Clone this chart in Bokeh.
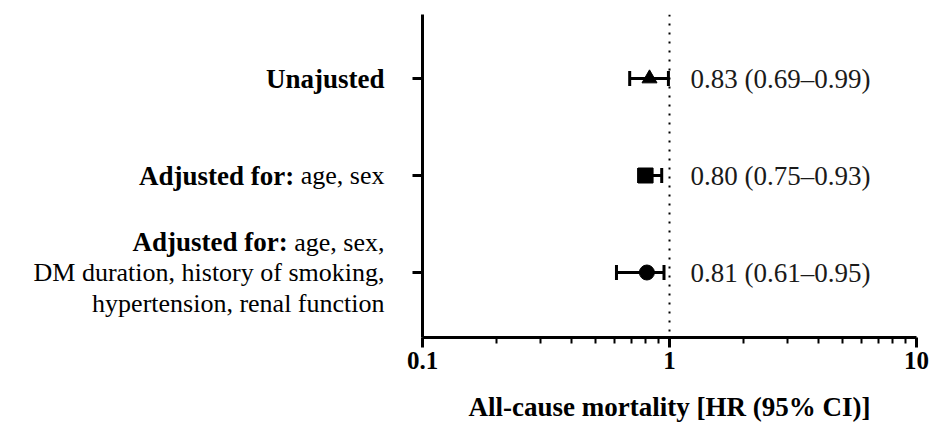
from bokeh.plotting import figure
from bokeh.layouts import row
from bokeh.models import (Range1d, FixedTicker, Whisker, TeeHead, Span,
                          ColumnDataSource)
from bokeh.core.properties import value
from bokeh.embed import file_html
from bokeh.resources import INLINE

# ---- data ----
hr = [0.83, 0.80, 0.81]
ci_low = [0.69, 0.75, 0.61]
ci_high = [0.99, 0.93, 0.95]
value_labels = ["0.83 (0.69\u20130.99)", "0.80 (0.75\u20130.93)", "0.81 (0.61\u20130.95)"]
markers = ["triangle", "square", "circle"]
label_bold = ["Unajusted", "Adjusted for:", "Adjusted for:"]
label_tail = ["", "age, sex", "age, sex,"]
label_extra = [[], [], ["DM duration, history of smoking,", "hypertension, renal function"]]
x_ticks = [0.1, 1, 10]
x_minor_ticks = [0.2, 0.3, 0.4, 0.5, 0.6, 0.7, 0.8, 0.9, 2, 3, 4, 5, 6, 7, 8, 9]
x_tick_labels = ["0.1", "1", "10"]
x_title = "All-cause mortality [HR (95% CI)]"

rows = [3, 2, 1]

SERIF = "Liberation Serif"
FS = 26
FS_BOLD = 27
W, H = 931, 427
LEFT_W = 400
TOP, BOTTOM = 14, 90

yr = Range1d(0.33, 3.66)

p = figure(width=W - LEFT_W, height=H, x_axis_type="log",
           x_range=Range1d(0.1, 10), y_range=yr,
           output_backend="svg", toolbar_location=None,
           min_border_left=22, min_border_right=15, min_border_top=TOP, min_border_bottom=BOTTOM)
p.outline_line_color = None
p.xgrid.visible = False
p.ygrid.visible = False

# x axis
xa = p.xaxis[0]
xa.ticker = FixedTicker(ticks=x_ticks, minor_ticks=x_minor_ticks)
xa.major_label_overrides = {t: l for t, l in zip(x_ticks, x_tick_labels)}
xa.axis_line_width = 3
xa.major_tick_line_width = 3
xa.minor_tick_line_width = 2
xa.major_tick_out = 10
xa.major_tick_in = 0
xa.minor_tick_out = 6
xa.minor_tick_in = 0
xa.major_label_text_font = SERIF
xa.major_label_text_font_style = "bold"
xa.major_label_text_font_size = "25px"
xa.major_label_text_color = "black"
xa.major_label_standoff = 4
xa.axis_label = x_title
xa.axis_label_text_font = SERIF
xa.axis_label_text_font_style = "bold"
xa.axis_label_text_font_size = "27px"
xa.axis_label_text_color = "black"
xa.axis_label_standoff = 20

# y axis
ya = p.yaxis[0]
ya.ticker = FixedTicker(ticks=rows)
ya.major_label_overrides = {r: "" for r in rows}
ya.major_label_text_font_size = "1px"
ya.major_label_standoff = 0
ya.axis_line_width = 3
ya.major_tick_line_width = 3
ya.major_tick_out = 10
ya.major_tick_in = 0
ya.minor_tick_out = 0
ya.minor_tick_in = 0

# reference line at HR = 1
p.add_layout(Span(location=1, dimension="height", line_color="black",
                  line_width=2, line_dash="2 7"))

src = ColumnDataSource(dict(y=rows, hr=hr, lo=ci_low, hi=ci_high,
                            m=markers, lab=value_labels, xr=[1] * 3))

p.add_layout(Whisker(source=src, base="y", lower="lo", upper="hi", dimension="width",
                     line_width=3, line_color="black",
                     lower_head=TeeHead(size=15, line_width=3, line_color="black"),
                     upper_head=TeeHead(size=15, line_width=3, line_color="black")))

p.scatter(x="hr", y="y", marker="m", size=15, color="black", source=src)

p.text(x="xr", y="y", text="lab", source=src, x_offset=21,
       text_font=value(SERIF), text_font_size="27px", text_color="#1a1a1a",
       text_baseline="middle", text_align="left")

# ---- left panel with row labels (mixed bold / normal) ----
left = figure(width=LEFT_W, height=H, x_range=Range1d(0, LEFT_W), y_range=yr,
              x_axis_location=None, y_axis_location=None,
              output_backend="svg", toolbar_location=None,
              min_border_left=0, min_border_right=0, min_border_top=TOP, min_border_bottom=BOTTOM)
left.outline_line_color = None
left.xgrid.visible = False
left.ygrid.visible = False

# Times / Liberation Serif advance widths (em), normal weight
W_NORMAL = {" ": 0.25, "a": 0.444, "g": 0.5, "e": 0.444, ",": 0.25, "s": 0.389, "x": 0.5}

def wnorm(s):
    return sum(W_NORMAL[c] for c in s) * FS

RIGHT = 384
LINE = 0.31

def txt(t, x, y, bold):
    left.text(x=[x], y=[y], text=[t], text_align="right", text_baseline="middle",
              text_font=value(SERIF), text_font_size=f"{FS_BOLD if bold else FS}px",
              text_font_style="bold" if bold else "normal", text_color="black")

for r, b, tail, extra in zip(rows, label_bold, label_tail, label_extra):
    y0 = r + LINE if extra else r
    shift = 0
    if tail:
        txt(tail, RIGHT, y0, False)
        shift = wnorm(tail) + wnorm(" ")
    txt(b, RIGHT - shift, y0, True)
    for i, e in enumerate(extra):
        txt(e, RIGHT, y0 - LINE * (i + 1) - 0.01 * i, False)

layout = row(left, p, spacing=0)
open("out.html", "w").write(file_html(layout, INLINE))
